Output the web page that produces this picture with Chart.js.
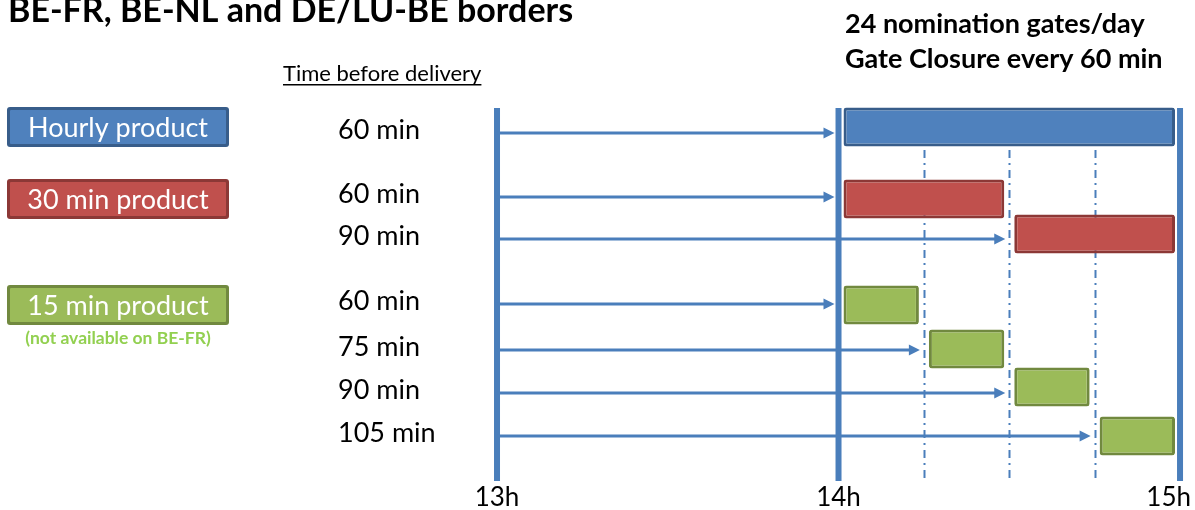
<!DOCTYPE html>
<html>
<head>
<meta charset="utf-8">
<script src="https://cdn.jsdelivr.net/npm/chart.js@4.4.1/dist/chart.umd.min.js"></script>
<style>
  html, body { margin: 0; padding: 0; background: #fff; }
  #wrap { width: 1195px; height: 510px; }
</style>
</head>
<body>
<div id="wrap"><canvas id="chart" width="1195" height="510"></canvas></div>
<script>
// products and their notes
const products = ["Hourly product", "30 min product", "15 min product"];
const productNotes = ["", "", "(not available on BE-FR)"];

// one row per nomination: which product, minutes before delivery, product length
const rowProduct = [0, 1, 1, 2, 2, 2, 2];
const leadTimes = [60, 60, 90, 60, 75, 90, 105];
const durations = [60, 30, 30, 15, 15, 15, 15];

// time axis, in minutes after 13h (gate closure)
const hourTicks = [0, 60, 120];
const hourLabels = ["13h", "14h", "15h"];
const quarterTicks = [75, 90, 105];

// layout only (pixel rows on the y scale)
const rowY = [133, 197, 239, 304, 350, 393, 436];
const barY = [127, 199, 234, 305, 349, 387, 436];
const legendY = [127, 199, 305];

const fills = ["#4F81BD", "#C0504D", "#9BBB59"];
const borders = ["#385D8A", "#8C3836", "#71893F"];
const lineBlue = "#4A7EBB";
const FONT = "Lato, 'Open Sans', sans-serif";

function box(ctx, x, y, w, h, fill, border) {
  ctx.beginPath();
  ctx.roundRect(x, y, w, h, 3);
  ctx.fillStyle = border;
  ctx.fill();
  ctx.beginPath();
  ctx.roundRect(x + 3, y + 3, w - 6, h - 6, 1);
  ctx.fillStyle = fill;
  ctx.fill();
}

const guides = {
  id: "guides",
  afterDatasetsUpdate(chart) {
    // small gap between bars and the time lines
    chart.getDatasetMeta(0).data.forEach(el => {
      el.base += 5;
      el.x -= 5;
    });
  },
  beforeDatasetsDraw(chart) {
    const ctx = chart.ctx;
    const xs = chart.scales.x, ys = chart.scales.y;
    ctx.save();
    // quarter-hour dash-dot lines
    ctx.strokeStyle = lineBlue;
    ctx.lineWidth = 2;
    ctx.setLineDash([8, 5, 2, 5]);
    quarterTicks.forEach(t => {
      const x = Math.round(xs.getPixelForValue(t)) + 0.5;
      ctx.beginPath();
      ctx.moveTo(x, ys.getPixelForValue(150));
      ctx.lineTo(x, ys.getPixelForValue(481));
      ctx.stroke();
    });
    ctx.setLineDash([]);
    // hour lines
    ctx.lineWidth = 6;
    hourTicks.forEach(t => {
      const x = xs.getPixelForValue(t);
      ctx.beginPath();
      ctx.moveTo(x, ys.getPixelForValue(108));
      ctx.lineTo(x, ys.getPixelForValue(481));
      ctx.stroke();
    });
    // arrows from gate closure to delivery start
    ctx.fillStyle = lineBlue;
    leadTimes.forEach((t, i) => {
      const x0 = xs.getPixelForValue(0);
      const tip = xs.getPixelForValue(t) - 4;
      const y = ys.getPixelForValue(rowY[i]);
      ctx.fillRect(x0, y - 1.5, tip - 10 - x0, 3);
      ctx.beginPath();
      ctx.moveTo(tip, y);
      ctx.lineTo(tip - 11, y - 5.5);
      ctx.lineTo(tip - 11, y + 5.5);
      ctx.closePath();
      ctx.fill();
    });
    ctx.restore();
  },
  afterDraw(chart) {
    const ctx = chart.ctx;
    const xs = chart.scales.x, ys = chart.scales.y;
    ctx.save();
    ctx.fillStyle = "#000";
    ctx.textBaseline = "alphabetic";
    ctx.textAlign = "left";
    ctx.font = "bold 34px " + FONT;
    ctx.fillText("BE-FR, BE-NL and DE/LU-BE borders", 8, 22);
    ctx.font = "bold 27px " + FONT;
    ctx.fillText("24 nomination gates/day", 845, 33);
    ctx.fillText("Gate Closure every 60 min", 845, 68);

    ctx.font = "22px " + FONT;
    const head = "Time before delivery";
    ctx.fillText(head, 283, 81);
    const hw = ctx.measureText(head).width;
    ctx.fillRect(283, 84, hw, 1.5);

    // legend boxes
    products.forEach((p, k) => {
      const y = legendY[k];
      box(ctx, 7, y - 20, 222, 40, fills[k], borders[k]);
      ctx.fillStyle = "#fff";
      ctx.font = "27px " + FONT;
      ctx.textAlign = "center";
      ctx.textBaseline = "middle";
      ctx.fillText(p, 118, y + 1);
      if (productNotes[k]) {
        ctx.fillStyle = "#92D050";
        ctx.font = "bold 17.5px " + FONT;
        ctx.fillText(productNotes[k], 118, y + 33);
      }
    });

    // lead time labels
    ctx.fillStyle = "#000";
    ctx.font = "27px " + FONT;
    ctx.textAlign = "left";
    ctx.textBaseline = "middle";
    leadTimes.forEach((t, i) => {
      ctx.fillText(t + " min", 338, ys.getPixelForValue(rowY[i]) - 3);
    });

    // hour labels
    ctx.font = "26px " + FONT;
    ctx.textBaseline = "alphabetic";
    ctx.textAlign = "center";
    hourTicks.forEach((t, i) => {
      let x = xs.getPixelForValue(t);
      const w = ctx.measureText(hourLabels[i]).width;
      if (x + w / 2 > 1191) x = 1191 - w / 2;
      ctx.fillText(hourLabels[i], x, 506);
    });
    ctx.restore();
  }
};

new Chart(document.getElementById("chart"), {
  type: "bar",
  data: {
    datasets: [{
      data: leadTimes.map((t, i) => ({ x: [t, t + durations[i]], y: barY[i] })),
      backgroundColor: rowProduct.map(p => fills[p]),
      borderColor: rowProduct.map(p => borders[p]),
      borderWidth: 3,
      borderSkipped: false,
      borderRadius: 3,
      barThickness: 39,
      inflateAmount: 0
    }]
  },
  options: {
    indexAxis: "y",
    responsive: false,
    animation: false,
    events: [],
    layout: { padding: 0 },
    plugins: { legend: { display: false }, tooltip: { enabled: false } },
    scales: {
      x: { type: "linear", min: -87.32, max: 122.63, offset: false, grace: 0, display: false },
      y: { type: "linear", min: 0, max: 510, reverse: true, offset: false, grace: 0, display: false }
    }
  },
  plugins: [guides]
});
</script>
</body>
</html>
